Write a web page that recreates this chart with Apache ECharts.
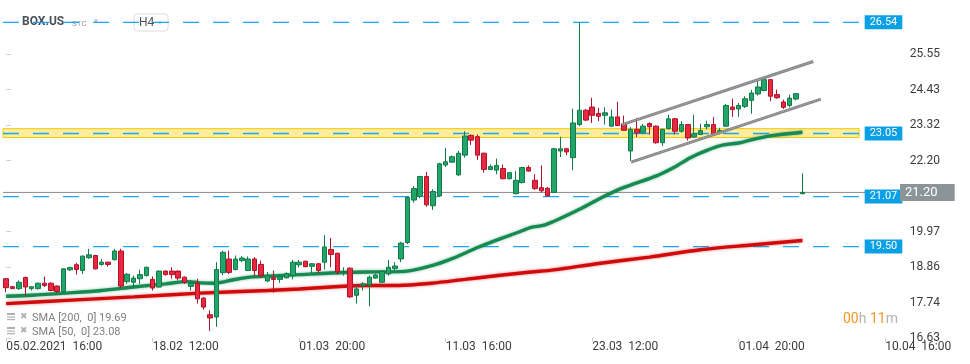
<!DOCTYPE html>
<html><head><meta charset="utf-8">
<script src="https://cdn.jsdelivr.net/npm/echarts@6/dist/echarts.min.js"></script>
<style>html,body{margin:0;padding:0;background:#fff}#c{width:970px;height:364px}</style>
</head><body><div id="c"></div>
<script>
// ---------- data ----------
const symbolName = 'BOX.US';
const symbolType = 'STC';
const timeframe = 'H4';
const tickLabels = ['05.02.2021  16:00','18.02  12:00','01.03  20:00','11.03  16:00','23.03  12:00','01.04  20:00','10.04  16:00'];
const tickStep = 23;          // candles between time labels
const slotCount = 140;        // candle slots on the time axis (incl. future space)
const yTicks = [16.63, 17.74, 18.86, 19.97, 21.09, 22.20, 23.32, 24.43, 25.55];
const yHiddenTick = 21.09;    // covered by the last-price tag
// candles: [open, close, low, high]
const candles = [
[18.49,18.21,18.07,18.51],[18.24,18.18,18.17,18.26],[18.18,18.38,18.14,18.44],[18.53,18.23,17.97,18.56],
[18.18,18.24,18.12,18.26],[18.18,18.35,18.15,18.37],[18.35,18.28,18.23,18.56],[18.35,18.12,18.10,18.38],
[18.26,18.09,18.04,18.28],[18.09,18.80,18.07,18.82],[18.77,18.84,18.73,18.87],[18.93,18.78,18.62,18.99],
[18.75,19.20,18.64,19.22],[19.15,19.24,19.11,19.43],[19.22,18.80,18.78,19.24],[18.94,19.01,18.90,19.11],
[19.01,18.94,18.87,19.03],[19.09,19.36,19.06,19.43],[19.36,18.26,18.21,19.43],[18.40,18.63,18.33,18.67],
[18.38,18.51,18.23,18.59],[18.49,18.62,18.33,18.77],[18.59,18.85,18.56,18.87],[18.47,18.20,18.12,18.56],
[18.23,18.73,18.21,18.75],[18.73,18.62,18.59,18.75],[18.73,18.62,18.49,18.85],[18.73,18.51,18.44,18.75],
[18.54,18.38,18.33,18.56],[18.25,18.35,18.12,18.44],[18.35,17.86,17.71,18.49],[17.88,17.60,17.52,17.92],
[17.36,17.26,16.85,17.50],[17.29,18.78,16.98,19.01],[18.68,19.32,18.60,19.37],[19.11,18.69,18.64,19.37],
[18.78,19.11,18.75,19.22],[19.06,19.14,19.01,19.20],[18.75,19.11,18.73,19.19],[19.11,18.75,18.56,19.17],
[18.94,18.59,18.52,19.06],[18.42,18.59,18.38,18.70],[18.52,18.47,18.05,18.75],[18.47,18.55,18.36,18.59],
[18.52,18.65,18.50,18.69],[18.59,19.01,18.47,19.08],[18.93,19.01,18.85,19.08],[19.04,18.87,18.85,19.06],
[18.88,18.96,18.66,18.98],[18.96,18.75,18.65,18.98],[19.01,19.49,18.78,19.86],[19.41,19.25,18.85,19.77],
[19.29,18.70,18.62,19.31],[18.69,18.72,18.59,18.85],[18.82,17.92,17.89,18.85],[17.97,18.17,17.71,18.30],
[18.28,18.33,18.12,18.38],[18.30,18.54,17.63,18.59],[18.51,18.61,18.49,18.64],[18.38,18.72,18.35,18.75],
[18.64,18.85,18.59,19.08],[18.81,18.89,18.75,19.01],[19.11,19.61,19.01,19.65],[19.63,21.04,19.58,21.07],
[20.96,21.32,20.88,21.40],[21.07,21.70,21.02,21.72],[21.70,20.81,20.75,21.84],[20.78,21.23,20.65,21.30],
[21.09,22.10,21.06,22.13],[22.06,22.16,22.00,22.60],[22.15,22.32,22.13,22.36],[21.75,22.43,21.72,22.50],
[22.37,22.97,22.29,23.12],[22.99,22.84,22.69,23.02],[22.95,22.37,22.22,23.02],[22.43,21.92,21.82,22.45],
[21.92,22.01,21.92,22.08],[21.90,22.05,21.77,22.26],[21.95,21.63,21.61,22.08],[21.63,21.82,21.61,21.84],
[21.16,21.58,21.14,21.87],[21.51,21.98,21.48,22.00],[21.98,21.87,21.85,22.05],[21.58,21.32,21.28,21.77],
[21.35,21.25,21.20,22.05],[21.33,21.09,21.07,21.37],[21.20,22.57,21.18,22.60],[22.50,22.57,22.31,22.95],
[22.57,22.47,22.37,22.60],[22.29,23.38,21.90,23.83],[23.33,23.78,23.28,26.54],[23.78,23.47,23.44,23.82],
[23.88,23.62,23.38,24.17],[23.68,23.59,23.44,23.85],[23.62,23.70,23.33,23.87],[23.28,23.57,23.26,23.80],
[23.57,23.30,23.28,24.04],[23.35,23.15,23.14,23.61],[22.50,23.18,22.19,23.25],[23.18,23.07,22.94,23.54],
[23.07,23.28,23.05,23.35],[23.36,23.26,23.02,23.40],[23.28,22.76,22.73,23.30],[22.76,23.18,22.66,23.20],
[23.20,23.51,23.18,23.64],[23.51,23.12,23.02,23.54],[23.12,23.33,23.07,23.44],[23.33,22.91,22.83,23.35],
[22.94,23.04,22.92,23.64],[23.02,23.14,23.00,23.36],[23.26,23.33,23.18,23.45],[23.33,23.02,23.00,23.57],
[23.10,23.14,23.02,23.23],[23.28,23.93,23.26,23.98],[23.88,23.80,23.57,24.14],[23.82,23.93,23.57,24.01],
[23.90,24.14,23.85,24.22],[24.09,24.32,23.67,24.42],[24.29,24.51,24.24,24.76],[24.40,24.74,24.37,24.79],
[24.74,24.22,24.06,24.76],[24.27,24.17,24.14,24.43],[24.04,23.87,23.82,24.11],[23.93,24.16,23.87,24.27],
[24.13,24.30,24.09,24.32],[21.16,21.20,21.14,21.80]
];
// moving averages: [candle index, value]
const sma50 = [[0,17.94],[4,17.97],[9.5,18.04],[15,18.12],[20,18.23],[25,18.33],[28.4,18.40],[30.5,18.36],
[32.6,18.35],[35.7,18.46],[38.3,18.54],[41,18.57],[46,18.62],[51,18.67],[56.4,18.70],[62.6,18.72],[66.8,18.90],
[70,19.12],[74,19.47],[77.2,19.72],[80.4,19.95],[82.4,20.10],[84.6,20.18],[90.1,20.68],[93.5,21.04],[96.9,21.35],
[102.1,21.72],[104.8,21.98],[107.4,22.29],[110,22.52],[112.6,22.69],[115.2,22.76],[117.8,22.89],[120.5,22.99],[125,23.09]];
const sma200 = [[0,17.71],[9.5,17.81],[20,17.92],[30.5,18.04],[41,18.12],[46,18.17],[51,18.23],[56.4,18.28],
[61.6,18.28],[66.8,18.35],[72,18.47],[77.2,18.59],[82.4,18.70],[86,18.77],[93,18.97],[101,19.17],[109,19.40],[117,19.55],[125,19.69]];
const levels = [26.54, 23.05, 21.07, 19.50];
const zone = [22.92, 23.20];
const lastPrice = 21.20;
const channelUpper = [[96.7,23.33],[126.7,25.31]];
const channelLower = [[98.1,22.15],[127.9,24.13]];
const smaLegend = ['SMA [200,  0] 19.69', 'SMA [50,  0] 23.08'];
const countdown = ['00', 'h ', '11', 'm'];

// ---------- chart ----------
const FONT = 'Roboto, "Noto Sans", sans-serif';
const slots = Array.from({length: slotCount}, (_, i) => String(i));
const levelEnd = 134.3;
const priceEnd = 140.65;
const chart = echarts.init(document.getElementById('c'), null, {renderer: 'canvas'});

const series = [];
levels.forEach(lv => {
  series.push({
    type: 'line', xAxisIndex: 1, yAxisIndex: 0, z: 1, silent: true,
    data: [[-0.5, lv], [levelEnd, lv]], showSymbol: false, symbol: 'none',
    lineStyle: {color: '#19a7ee', width: 1.3, type: [16, 14]},
    endLabel: {show: true, formatter: lv.toFixed(2), backgroundColor: '#0aa0e6', color: '#fff',
      fontFamily: FONT, fontSize: 11, padding: [2, 5, 1, 5], distance: 3}
  });
});
series.push({
  type: 'scatter', xAxisIndex: 1, yAxisIndex: 0, z: 0, silent: true, clip: false,
  data: [[140.97, lastPrice]], symbol: 'triangle', symbolRotate: 90, symbolSize: [17, 5],
  itemStyle: {color: '#8b9497'}
});
series.push({
  type: 'line', xAxisIndex: 1, yAxisIndex: 0, z: 1, silent: true, clip: false,
  data: [[-0.5, lastPrice], [priceEnd, lastPrice]], showSymbol: false, symbol: 'none',
  lineStyle: {color: '#8a8a8a', width: 1},
  endLabel: {show: true, formatter: lastPrice.toFixed(2), backgroundColor: '#8b9497', color: '#fff',
    fontFamily: FONT, fontSize: 13, padding: [2, 17, 2, 5], distance: 4}
});
series.push({
  type: 'line', xAxisIndex: 1, yAxisIndex: 0, z: 2, silent: true, data: sma200, showSymbol: false, symbol: 'none',
  smooth: 0.3, lineStyle: {color: '#d10b0b', width: 3.4, shadowBlur: 3, shadowColor: 'rgba(215,20,20,0.55)'}
});
series.push({
  type: 'line', xAxisIndex: 1, yAxisIndex: 0, z: 2, silent: true, data: sma50, showSymbol: false, symbol: 'none',
  smooth: 0.3, lineStyle: {color: '#168a52', width: 3.4, shadowBlur: 3, shadowColor: 'rgba(20,140,80,0.55)'}
});
series.push({
  type: 'candlestick', xAxisIndex: 0, yAxisIndex: 0, z: 3, data: candles, barWidth: 5,
  itemStyle: {color: '#22a56b', color0: '#e8283f', borderColor: '#117a47', borderColor0: '#b0122a', borderWidth: 1}
});
[channelUpper, channelLower].forEach(ch => {
  series.push({
    type: 'line', xAxisIndex: 1, yAxisIndex: 0, z: 4, silent: true, data: ch, showSymbol: false, symbol: 'none',
    lineStyle: {color: '#858585', width: 3}
  });
  series.push({
    type: 'line', xAxisIndex: 1, yAxisIndex: 0, z: 4, silent: true, data: ch, showSymbol: false, symbol: 'none',
    lineStyle: {color: '#b8b8b8', width: 1, type: [1, 1]}
  });
});
series.push({
  type: 'line', xAxisIndex: 1, yAxisIndex: 0, z: 5, silent: true, data: [],
  markArea: {silent: true,
    itemStyle: {color: 'rgba(252,214,40,0.45)', borderColor: '#f6c700', borderWidth: 1},
    data: [[{coord: [-0.5, zone[1]]}, {coord: [levelEnd - 0.4, zone[0]]}]]}
});

const gText = (x, y, text, style) => ({type: 'text', x, y, silent: true,
  style: Object.assign({text, fontFamily: FONT, verticalAlign: 'middle'}, style)});

const option = {
  animation: false,
  backgroundColor: '#fff',
  grid: {left: 3, right: 75.2, top: 0, bottom: 26, containLabel: false},
  xAxis: [{
    type: 'category', data: slots, boundaryGap: true,
    axisLine: {show: false},
    axisTick: {show: true, alignWithLabel: true, length: 4, interval: (i) => i % tickStep === 0,
      lineStyle: {color: '#cfcfcf'}},
    axisLabel: {interval: (i) => i % tickStep === 0, formatter: (v, i) => tickLabels[i / tickStep] || '',
      align: 'left', color: '#3c3c3c', fontSize: 12, fontFamily: FONT, margin: 3},
    splitLine: {show: false}
  }, {
    type: 'value', min: -0.5, max: slotCount - 0.5, show: false
  }],
  yAxis: [{
    type: 'value', position: 'right', min: 16.63, max: 27.24, offset: 7, scale: true,
    axisLine: {show: false}, splitLine: {show: false},
    axisTick: {show: true, length: 5, customValues: yTicks, lineStyle: {color: '#cfcfcf'}},
    axisLabel: {customValues: yTicks.filter(v => v !== yHiddenTick), formatter: v => v.toFixed(2),
      color: '#3c3c3c', fontSize: 12, fontFamily: FONT, margin: 8}
  }],
  series,
  graphic: [
    gText(22, 22, symbolName, {fill: '#4b5158', fontSize: 12, fontWeight: 'bold'}),
    gText(72, 24, symbolType, {fill: '#8c9aa4', fontSize: 8}),
    gText(93, 21, '▼', {fill: '#b5b5b5', fontSize: 6}),
    {type: 'rect', shape: {x: 134, y: 14, width: 34, height: 17, r: 3}, silent: true,
      style: {fill: 'rgba(0,0,0,0)', stroke: '#dddddd', lineWidth: 1}},
    gText(139, 23, timeframe, {fill: '#4b5158', fontSize: 12}),
    gText(157, 23, '▼', {fill: '#c4c4c4', fontSize: 6}),
    ...smaLegend.map((t, k) => ({type: 'group', x: 7, y: 313 + k * 14, silent: true, children: [
      {type: 'rect', shape: {x: 0, y: 0, width: 8, height: 2}, style: {fill: '#b0b0b0'}},
      {type: 'rect', shape: {x: 0, y: 3.5, width: 8, height: 1.2}, style: {fill: '#b0b0b0'}},
      {type: 'rect', shape: {x: 0, y: 6, width: 8, height: 1.2}, style: {fill: '#b0b0b0'}},
      gText(13, 4, '✖', {fill: '#b0b0b0', fontSize: 9}),
      gText(25, 5, t, {fill: '#808080', fontSize: 11})
    ]})),
    {type: 'text', x: 843, y: 319, silent: true, style: {
      text: `{o|${countdown[0]}}{g|${countdown[1]}}{o|${countdown[2]}}{g|${countdown[3]}}`,
      verticalAlign: 'middle', fontFamily: FONT, fontSize: 14,
      rich: {o: {fill: '#f7941d', fontSize: 14, fontFamily: FONT}, g: {fill: '#b4b4b4', fontSize: 14, fontFamily: FONT}}}}
  ]
};
chart.setOption(option);
</script>
</body></html>
